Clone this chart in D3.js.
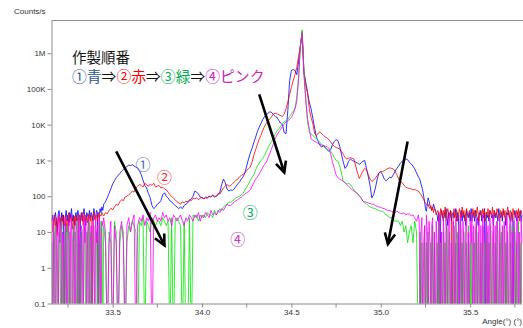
<!DOCTYPE html>
<html>
<head>
<meta charset="utf-8">
<script src="https://cdn.jsdelivr.net/npm/d3@7/dist/d3.min.js"></script>
<style>
  html, body { margin: 0; padding: 0; background: #fff; }
  svg { display: block; }
</style>
</head>
<body>
<svg id="chart" width="523" height="328"></svg>
<script>
// Scan segments (degrees 2θ): fine steps in the background wings, coarser across the peak
const leftStart = 33.16, midStart = 33.45, rightStart = 35.215;
const wingStep = 0.005, midStep = 0.01;

// Counts/s per scan point for each sample (0 = no counts)
const blueLeft = [
  20,30,15,25,35,20,10,30,40,25,15,35,20,30,0,25,40,20,30,15,
  35,25,45,20,30,15,25,35,20,40,30,0,25,35,20,30,45,25,15,35,
  30,20,40,25,35,30,20,45,30,25,40,35,0,30,45,35,50,40
];
const blueMid = [
  60,70,90,120,160,220,270,330,380,430,500,
  560,620,680,740,720,760,700,650,620,520,400,280,200,170,120,90,55,45,50,60,
  65,75,110,125,100,90,75,70,60,55,50,45,50,45,55,60,65,75,85,100,
  140,130,115,95,90,85,95,90,100,95,105,95,100,110,130,210,300,240,160,140,
  150,145,160,190,220,250,300,350,450,700,1100,1600,2200,3200,4500,6500,8500,11000,14000,17000,
  19000,21000,23000,22000,19000,17000,16000,13000,11000,10000,6000,5600,25000,170000,330000,350000,330000,250000,560000,1500000,
  3800000,300000,160000,80000,43000,28000,15000,8000,4500,3400,2600,2400,2600,2300,2000,1800,2000,2800,3400,3800,
  3600,2500,1500,900,600,700,950,1100,1000,950,900,850,780,850,950,1000,600,360,200,90,
  110,170,300,450,480,400,300,270,300,340,330,400,500,600,700,850,950,1000,1100,1050,
  900,800,700,580,450,350
];
const blueRight = [
  320,280,220,180,140,100,70,45,38,60,90,75,55,50,40,45,60,50,40,35,
  30,20,35,0,25,40,30,20,35,25,45,30,15,35,25,40,20,30,35,25,
  30,45,20,35,25,0,30,40,20,35,25,30,15,40,30,25,35,20,45,30,
  25,35,20,40,30,25,15,35,30,40,20,30,25,45,0,35,25,30,20,40,
  35,25,30,15,40,25,35,30,20,45,30,25,35,20,40,30,25,15,35,30,
  40,25,20,35,30,0,25,40,30,20,35,25,30,40,20,30
];

const redLeft = [
  25,10,20,30,15,25,8,20,30,18,25,12,30,20,15,28,22,10,25,35,
  18,25,30,12,20,28,15,30,22,25,10,30,20,25,35,15,28,20,30,25,
  18,32,25,20,30,0,25,35,22,28,30,20,35,25,30,28,35,30
];
const redMid = [
  28,35,32,40,46,42,50,60,55,70,80,
  75,95,100,110,120,140,130,170,190,215,200,180,230,210,190,220,200,230,180,190,
  200,170,180,160,150,130,110,100,88,80,70,65,60,70,65,72,70,80,75,88,
  85,90,80,88,95,85,90,88,100,95,110,100,100,120,115,140,170,190,215,190,
  200,220,250,280,300,350,380,410,450,520,600,650,900,1400,2000,2800,4000,5100,7000,9000,
  11000,13000,14600,17000,20000,21000,20000,19000,18000,17000,20000,28000,43000,70000,110000,170000,250000,400000,800000,1600000,
  4000000,300000,130000,80000,28000,16000,10600,5600,5000,5800,6300,5500,5000,4500,4200,3800,3300,2800,2500,2300,
  2200,2100,1800,1500,1200,1100,1150,1200,1150,1100,700,450,315,400,500,600,550,400,300,260,
  280,320,380,450,500,490,520,560,600,620,600,580,500,400,300,260,240,200,180,170,
  165,160,150,155,145,140
];
const redRight = [
  130,120,110,100,90,80,72,65,60,55,60,50,45,55,40,50,35,45,40,30,
  35,40,30,20,45,35,25,40,30,50,20,35,45,30,25,40,35,0,30,45,
  25,35,40,20,30,45,35,25,50,30,40,20,35,45,30,25,40,35,30,20,
  45,30,40,25,35,50,30,20,40,35,25,45,30,40,20,35,30,45,25,40,
  35,30,50,20,40,30,25,45,35,30,20,40,35,25,45,30,40,20,35,50,
  30,25,40,35,20,45,30,35,25,40,30,45,20,35,40,30
];

const greenLeft = [
  5,0,10,0,15,5,0,0,10,5,0,20,0,5,0,10,0,15,5,0,
  10,0,0,5,15,0,10,5,0,20,0,5,0,10,0,0,15,5,0,10,
  5,0,20,0,10,0,5,15,0,0,10,5,0,15,0,20,5,0
];
const greenMid = [
  15,5,0,10,5,0,20,10,0,5,15,
  10,0,5,15,10,20,15,10,0,20,15,25,0,20,15,10,25,20,15,20,
  20,15,25,20,15,20,0,25,0,20,25,20,15,0,20,0,0,25,0,30,
  25,30,20,30,25,30,25,35,30,30,25,40,30,35,45,40,50,55,60,70,
  65,75,80,90,95,100,110,120,150,180,220,280,330,410,550,700,850,1000,1150,1400,
  1800,2300,2900,3400,4300,5500,6800,7700,9000,10500,12000,13000,14000,17000,20000,24000,28000,60000,190000,1500000,
  4500000,350000,60000,12000,6300,5500,5000,4500,4000,3600,3200,2800,2400,2200,2000,1900,1800,1500,1200,1000,
  940,700,450,260,240,220,230,215,180,150,130,113,100,90,72,65,60,55,50,48,
  46,45,42,40,38,38,35,30,28,25,25,22,20,20,20,15,20,10,15,5,
  10,15,5,20,10,0
];
const greenRight = [
  0,10,0,5,0,0,15,0,5,0,10,0,0,5,0,15,0,10,0,0,
  5,0,20,0,5,0,0,10,0,5,0,15,0,0,10,0,5,0,0,15,
  0,5,0,10,0,0,20,0,5,0,10,0,0,5,0,15,0,5,0,10,
  0,0,5,0,20,0,10,0,0,5,0,15,0,5,0,0,10,0,5,0,
  15,0,0,10,0,5,0,20,0,0,5,0,10,0,0,15,0,5,0,10,
  0,0,5,0,15,0,0,10,0,5,0,20,0,0,5,0
];

const pinkLeft = [
  10,0,25,5,0,15,10,0,30,5,20,0,10,5,0,25,15,0,5,20,
  0,10,30,0,5,15,0,20,10,0,25,5,0,15,10,0,30,5,20,0,
  10,25,0,5,15,0,20,10,0,30,5,15,0,25,10,0,20,15
];
const pinkMid = [
  25,10,0,5,20,0,15,5,0,10,20,
  5,0,15,25,10,20,30,0,15,25,20,30,15,25,20,35,0,25,30,20,
  25,20,35,25,30,20,25,15,30,25,20,25,30,20,15,25,20,30,25,20,
  30,25,35,20,30,25,35,30,25,40,30,35,30,40,35,45,40,50,60,55,
  55,60,70,75,80,88,95,105,115,125,135,150,190,240,300,350,420,520,650,780,
  900,1200,1600,2200,3000,4200,5200,6300,7500,9000,10500,12000,13000,14000,16000,20000,28000,43000,200000,1500000,
  3500000,250000,50000,15000,8000,4000,3700,3400,3200,3000,2800,2700,2600,2500,2400,2200,1500,900,600,400,
  330,300,280,260,240,210,190,170,150,140,130,120,105,90,72,70,68,65,62,60,
  60,55,52,50,48,46,45,42,40,40,38,36,35,38,35,33,32,35,30,32,
  32,28,30,25,20,30
];
const pinkRight = [
  20,0,10,25,0,5,15,0,30,10,0,20,5,0,15,25,0,10,0,20,
  5,0,30,15,0,10,0,25,5,0,20,10,0,15,30,0,5,0,20,10,
  0,25,5,0,15,0,30,10,0,20,5,0,15,25,0,10,0,20,5,30,
  0,15,0,10,25,0,5,20,0,15,0,30,10,0,5,20,0,15,0,25,
  10,0,5,30,0,15,0,20,10,0,25,5,0,15,0,20,10,0,30,5,
  0,15,25,0,10,0,20,5,0,15,30,0,10,0,25,5
];

const seriesNames = ["①青", "②赤", "③緑", "④ピンク"];
const seriesColors = ["#0000ff", "#ff0000", "#00e800", "#ff00ff"];

const yTicks = [0.1, 1, 10, 100, 1e3, 1e4, 1e5, 1e6];
const yTickLabels = ["0.1", "1", "10", "100", "1K", "10K", "100K", "1M"];
const xMajor = [33.5, 34.0, 34.5, 35.0, 35.5];
const xMajorLabels = ["33.5", "34.0", "34.5", "35.0", "35.5"];
const xMinor = [33.25, 33.75, 34.25, 34.75, 35.25, 35.75];

// join the three scan segments into (angle, counts) points
function scan(leftVals, midVals, rightVals) {
  const pts = [];
  leftVals.forEach((v, i) => pts.push([leftStart + i * wingStep, v]));
  midVals.forEach((v, i) => pts.push([midStart + i * midStep, v]));
  rightVals.forEach((v, i) => pts.push([rightStart + i * wingStep, v]));
  return pts;
}
const series = [
  scan(blueLeft, blueMid, blueRight),
  scan(redLeft, redMid, redRight),
  scan(greenLeft, greenMid, greenRight),
  scan(pinkLeft, pinkMid, pinkRight)
];

const svg = d3.select("#chart");
const plotLeft = 51.5, plotRight = 522, plotTop = 20.5, plotBottom = 303.5;

const x = d3.scaleLinear().domain([33.158, 35.79]).range([plotLeft, plotRight]);
const y = d3.scaleLog().domain([0.1, 8.2e6]).range([plotBottom, plotTop]);

const axisGrey = "#8c8c8c";
const tickFont = "'Liberation Sans', Arial, sans-serif";

// plot clip so zero-count points drop to the baseline
svg.append("defs").append("clipPath").attr("id", "plotClip")
  .append("rect").attr("x", plotLeft).attr("y", plotTop)
  .attr("width", plotRight - plotLeft + 1).attr("height", plotBottom - plotTop);

const line = d3.line()
  .x(d => x(d[0]))
  .y(d => y(Math.max(d[1], 0.005)));

const plot = svg.append("g").attr("clip-path", "url(#plotClip)");
series.forEach((s, k) => {
  plot.append("path")
    .datum(s)
    .attr("fill", "none")
    .attr("stroke", seriesColors[k])
    .attr("stroke-width", 0.9)
    .attr("stroke-opacity", 0.9)
    .attr("stroke-linejoin", "round")
    .attr("d", line);
});

// frame top edge
svg.append("line")
  .attr("x1", plotLeft).attr("x2", 523).attr("y1", plotTop).attr("y2", plotTop)
  .attr("stroke", axisGrey).attr("stroke-width", 1);

// y axis
const gy = svg.append("g").attr("transform", `translate(${plotLeft},0)`)
  .call(d3.axisLeft(y).tickValues(yTicks)
    .tickFormat((d, i) => yTickLabels[i]).tickSize(4).tickSizeOuter(0).tickPadding(2));

// x axis: major with labels, then minor ticks
const gx = svg.append("g").attr("transform", `translate(0,${plotBottom})`)
  .call(d3.axisBottom(x).tickValues(xMajor)
    .tickFormat((d, i) => xMajorLabels[i]).tickSize(4).tickSizeOuter(0).tickPadding(2));
gx.select(".domain").attr("d", `M${plotLeft},0.5H${plotRight}`);
gx.selectAll(".minor").data(xMinor).enter().append("line")
  .attr("class", "minor")
  .attr("x1", d => x(d)).attr("x2", d => x(d))
  .attr("y1", 0).attr("y2", 4);

[gx, gy].forEach(g => {
  g.selectAll(".domain").attr("stroke", axisGrey);
  g.selectAll("line").attr("stroke", axisGrey);
  g.selectAll("text").attr("fill", "#333").attr("font-size", 8)
    .attr("font-family", tickFont);
});

svg.append("text").attr("x", 14).attr("y", 13.5)
  .attr("font-family", tickFont).attr("font-size", 8).attr("fill", "#333")
  .text("Counts/s");
svg.append("text").attr("x", 522).attr("y", 324).attr("text-anchor", "end")
  .attr("font-family", tickFont).attr("font-size", 8).attr("fill", "#333")
  .text("Angle(°) (°)");

// order-of-preparation note
const cjk = "'Noto Sans CJK JP', 'Noto Sans', sans-serif";
svg.append("text").attr("x", 72).attr("y", 63)
  .attr("font-family", cjk).attr("font-size", 14.5).attr("fill", "#111")
  .text("作製順番");

const noteColors = ["#2f5597", "#ff0000", "#00b050", "#cc22bb"];
const note = svg.append("text").attr("x", 72).attr("y", 82)
  .attr("font-family", cjk).attr("font-size", 14.8);
seriesNames.forEach((n, i) => {
  note.append("tspan").attr("fill", noteColors[i]).text(n);
  if (i < seriesNames.length - 1) note.append("tspan").attr("fill", "#111").text("⇒");
});

// circled sample numbers beside the curves
const markLabels = [
  { t: "①", a: 33.67, v: 800, c: "#4a6fae" },
  { t: "②", a: 33.79, v: 360, c: "#ff2a2a" },
  { t: "③", a: 34.27, v: 38, c: "#00b050" },
  { t: "④", a: 34.20, v: 6.5, c: "#c23ab8" }
];
svg.selectAll(".mark").data(markLabels).enter().append("text")
  .attr("class", "mark")
  .attr("x", d => x(d.a)).attr("y", d => y(d.v))
  .attr("text-anchor", "middle").attr("dominant-baseline", "central")
  .attr("font-family", cjk).attr("font-size", 15)
  .attr("fill", d => d.c)
  .text(d => d.t);

// trend arrows (angle, counts) start -> end
const arrows = [
  { a0: 33.52, v0: 1800, a1: 33.79, v1: 4.2 },
  { a0: 34.32, v0: 70000, a1: 34.46, v1: 460 },
  { a0: 35.15, v0: 3400, a1: 35.04, v1: 4.6 }
];
const ag = svg.append("g").attr("stroke", "#000").attr("stroke-width", 2.6)
  .attr("fill", "none").attr("stroke-linecap", "butt");
arrows.forEach(ar => {
  const x0 = x(ar.a0), y0 = y(ar.v0), x1 = x(ar.a1), y1 = y(ar.v1);
  const ang = Math.atan2(y1 - y0, x1 - x0);
  const len = 12, spread = 0.45;
  const p1 = [x1 - len * Math.cos(ang - spread), y1 - len * Math.sin(ang - spread)];
  const p2 = [x1 - len * Math.cos(ang + spread), y1 - len * Math.sin(ang + spread)];
  ag.append("line").attr("x1", x0).attr("y1", y0).attr("x2", x1).attr("y2", y1);
  ag.append("path").attr("stroke-linejoin", "miter")
    .attr("d", `M${p1[0]},${p1[1]}L${x1},${y1}L${p2[0]},${p2[1]}`);
});
</script>
</body>
</html>
